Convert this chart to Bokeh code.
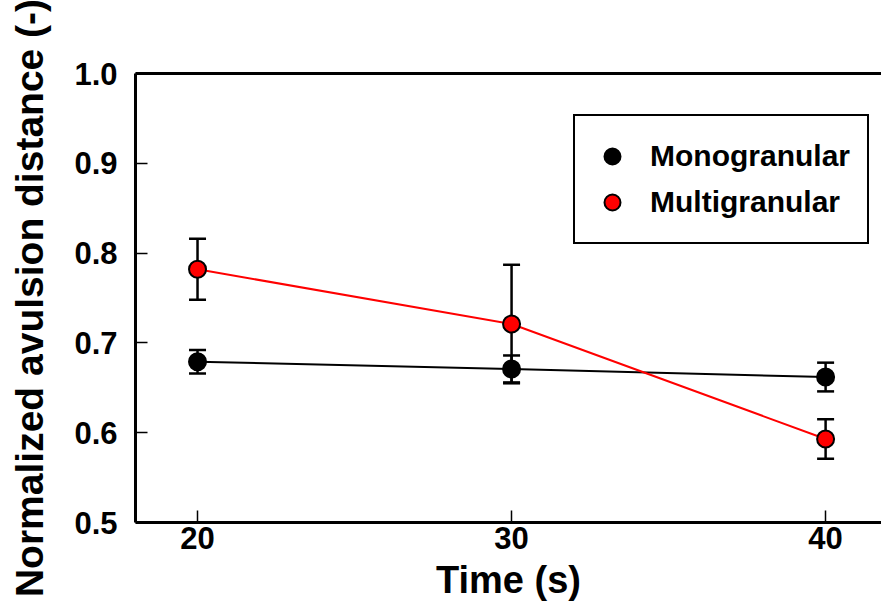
from bokeh.plotting import figure
from bokeh.models import (ColumnDataSource, Whisker, TeeHead, Legend, LegendItem,
                          FixedTicker, PrintfTickFormatter, LinearAxis, Range1d)
from bokeh.embed import file_html
from bokeh.resources import INLINE

time = [20, 30, 40]
mono = [0.679, 0.671, 0.662]
mono_err = [0.013, 0.015, 0.016]
multi = [0.782, 0.721, 0.593]
multi_err = [0.034, 0.066, 0.022]
x_ticks = [20, 30, 40]
y_ticks = [0.5, 0.6, 0.7, 0.8, 0.9, 1.0]
labels = ["Monogranular", "Multigranular"]

FONT = "Liberation Sans"

src_mono = ColumnDataSource(dict(x=time, y=mono,
                                 lo=[v - e for v, e in zip(mono, mono_err)],
                                 hi=[v + e for v, e in zip(mono, mono_err)]))
src_multi = ColumnDataSource(dict(x=time, y=multi,
                                  lo=[v - e for v, e in zip(multi, multi_err)],
                                  hi=[v + e for v, e in zip(multi, multi_err)]))

p = figure(width=881, height=606, output_backend="svg", toolbar_location=None,
           x_range=Range1d(18.025, 41.78), y_range=Range1d(0.5, 1.0),
           min_border_left=135, min_border_right=0, min_border_top=73, min_border_bottom=84)
p.outline_line_color = None
p.grid.visible = False
p.background_fill_color = "white"

for ax in (p.xaxis[0], p.yaxis[0]):
    ax.axis_line_width = 3
    ax.major_tick_in = 12
    ax.major_tick_out = 0
    ax.major_tick_line_width = 1.5
    ax.minor_tick_line_color = None
    ax.major_label_text_font = FONT
    ax.major_label_text_font_style = "bold"
    ax.major_label_text_font_size = "31px"
    ax.major_label_text_color = "black"
    ax.axis_label_text_font = FONT
    ax.axis_label_text_font_style = "bold"
    ax.axis_label_text_color = "black"

p.xaxis.axis_label_text_font_size = "38px"
p.yaxis.axis_label_text_font_size = "39px"
p.xaxis.ticker = FixedTicker(ticks=x_ticks)
p.yaxis.ticker = FixedTicker(ticks=y_ticks)
p.yaxis.formatter = PrintfTickFormatter(format="%.1f")
p.xaxis.axis_label = "Time (s)"
p.yaxis.axis_label = "Normalized avulsion distance (-)"
p.xaxis.major_label_standoff = 4
p.xaxis.axis_label_standoff = 7
p.yaxis.major_label_standoff = 18
p.yaxis.axis_label_standoff = 20

top = LinearAxis(ticker=FixedTicker(ticks=[]), axis_line_width=3,
                 major_tick_in=0, major_tick_out=0, minor_tick_line_color=None)
p.add_layout(top, "above")

for src in (src_mono, src_multi):
    w = Whisker(source=src, base="x", lower="lo", upper="hi",
                line_color="black", line_width=2.5,
                upper_head=TeeHead(size=17, line_width=2.5, line_color="black"),
                lower_head=TeeHead(size=17, line_width=2.5, line_color="black"),
                level="underlay")
    p.add_layout(w)

p.line("x", "y", source=src_mono, line_color="black", line_width=2)
p.line("x", "y", source=src_multi, line_color="red", line_width=2)
r_mono = p.scatter("x", "y", source=src_mono, size=17, fill_color="black",
                   line_color="black", line_width=2)
r_multi = p.scatter("x", "y", source=src_multi, size=17, fill_color="red",
                    line_color="black", line_width=2)

legend = Legend(items=[LegendItem(label=labels[0], renderers=[r_mono]),
                       LegendItem(label=labels[1], renderers=[r_multi])],
                location=(438, 278), margin=0, padding=17, spacing=0,
                glyph_width=40, glyph_height=46, label_height=46,
                label_standoff=18,
                label_text_font=FONT, label_text_font_style="bold",
                label_text_font_size="30px", label_text_color="black",
                border_line_color="black", border_line_width=2.5, border_line_alpha=1.0,
                background_fill_color="white", background_fill_alpha=1.0)
p.add_layout(legend)

open("out.html", "w").write(file_html(p, INLINE))
